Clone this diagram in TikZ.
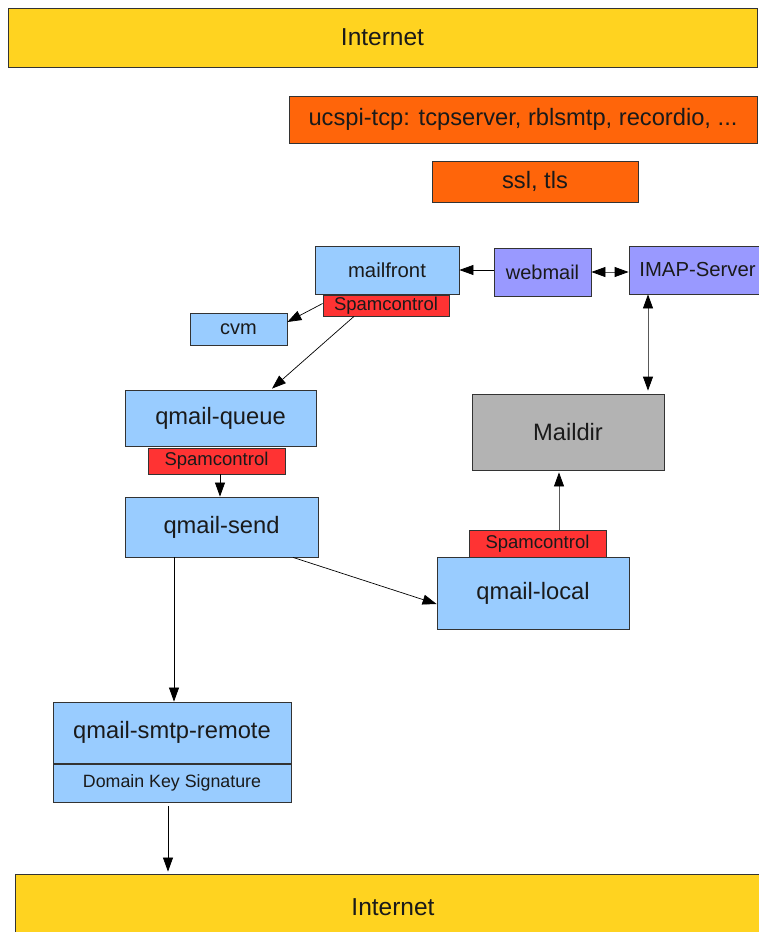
\documentclass[tikz,border=0pt]{standalone}
\usepackage{fontspec}
\setmainfont{Liberation Sans}
\usetikzlibrary{arrows.meta}
\definecolor{inet}{HTML}{FFD320}
\definecolor{orng}{HTML}{FF650A}
\definecolor{lblue}{HTML}{99CCFF}
\definecolor{purp}{HTML}{9999FF}
\definecolor{spred}{HTML}{FF3333}
\definecolor{mgray}{HTML}{B3B3B3}
\definecolor{edge}{HTML}{333333}
\definecolor{txt}{HTML}{1A1A1A}
\tikzset{
  box/.style={draw=edge, line width=0.8pt, rectangle, inner sep=0pt, text=txt, font=\fontsize{23.7}{28}\selectfont},
  inetbox/.style={box, fill=inet, font=\fontsize{24.5}{28}\selectfont},
  smallbox/.style={box, font=\fontsize{20.3}{24}\selectfont},
  spam/.style={box, fill=spred, font=\fontsize{18.5}{22}\selectfont},
  arr/.style={draw=black, line width=0.7pt, -{Triangle[length=14pt,width=10pt]}},
  arrg/.style={draw=black!65, line width=0.8pt, -{Triangle[length=14pt,width=10pt,color=black]}},
  darrg/.style={draw=black!65, line width=0.8pt, {Triangle[length=14pt,width=10pt,color=black]}-{Triangle[length=14pt,width=10pt,color=black]}},
}
\begin{document}
\begin{tikzpicture}[x=1pt,y=-1pt]
\useasboundingbox (0,0) rectangle (759,932);
\node[inetbox, minimum width=749pt, minimum height=59pt] (inetT) at (382.5,37.5) {Internet};
\node[box, fill=orng, minimum width=468pt, minimum height=47pt] (ucspi) at (523,119.5) {ucspi-tcp: tcpserver, rblsmtp, recordio, ...};
\node[box, fill=orng, minimum width=206pt, minimum height=41pt] (ssl) at (535,181.5) {ssl, tls};
\node[smallbox, fill=lblue, minimum width=144pt, minimum height=48pt] (mailfront) at (387,270) {mailfront};
\node[spam, minimum width=126pt, minimum height=21pt] (spam1) at (386,305.5) {Spamcontrol};
\node[smallbox, fill=purp, minimum width=97pt, minimum height=48pt, font=\fontsize{20}{24}\selectfont] (webmail) at (542.5,272) {webmail};
\node[smallbox, fill=purp, minimum width=137pt, minimum height=48pt] (imap) at (697.5,270) {IMAP-Server};
\node[smallbox, fill=lblue, minimum width=97pt, minimum height=32pt, font=\fontsize{20}{24}\selectfont] (cvm) at (238.5,329) {cvm};
\node[box, fill=lblue, minimum width=191pt, minimum height=56pt] (queue) at (220.5,418) {qmail-queue};
\node[spam, minimum width=137pt, minimum height=26pt] (spam2) at (216.5,461) {Spamcontrol};
\node[box, fill=lblue, minimum width=193pt, minimum height=60pt] (send) at (221.5,527) {qmail-send};
\node[box, fill=mgray, minimum width=192pt, minimum height=76pt] (maildir) at (568,432) {Maildir};
\node[spam, minimum width=137pt, minimum height=27pt] (spam3) at (537.5,543.5) {Spamcontrol};
\node[box, fill=lblue, minimum width=192pt, minimum height=72pt] (local) at (533,593) {qmail-local};
\node[box, fill=lblue, minimum width=238pt, minimum height=61pt] (smtp) at (172,732.5) {qmail-smtp-remote};
\node[box, fill=lblue, minimum width=238pt, minimum height=38pt, font=\fontsize{17.8}{21}\selectfont] (dks) at (172,783) {Domain Key Signature};
\node[inetbox, minimum width=756pt, minimum height=66pt] (inetB) at (393,907) {Internet};
% connectors
\draw[arr] (webmail.west |- mailfront.east) -- (mailfront.east);
\draw[darrg] (webmail.east) -- (webmail.east -| imap.west);
\draw[darrg] ([xshift=-49.5pt]imap.south) -- ([xshift=-49.5pt,yshift=3pt]imap.south |- maildir.north);
\draw[arr] ([yshift=2pt]spam1.west) -- ([yshift=7pt]cvm.east);
\draw[arr] ([xshift=-32pt]spam1.south) -- ([xshift=51.5pt,yshift=1pt]queue.north);
\draw[arr] ([xshift=3.5pt]spam2.south) -- ([xshift=3.5pt]spam2.south |- send.north);
\draw[arr] ([xshift=71.5pt]send.south) -- ([yshift=-11pt]local.west);
\draw[arr] ([xshift=-47.5pt]send.south) -- ([xshift=-47.5pt]send.south |- smtp.north);
\draw[arrg] ([xshift=21.5pt]spam3.north) -- ([xshift=21.5pt,yshift=-2pt]spam3.north |- maildir.south);
\draw[arr] ([xshift=-4pt,yshift=-4pt]dks.south) -- ([xshift=-4pt,yshift=2pt]dks.south |- inetB.north);
\end{tikzpicture}
\end{document}
